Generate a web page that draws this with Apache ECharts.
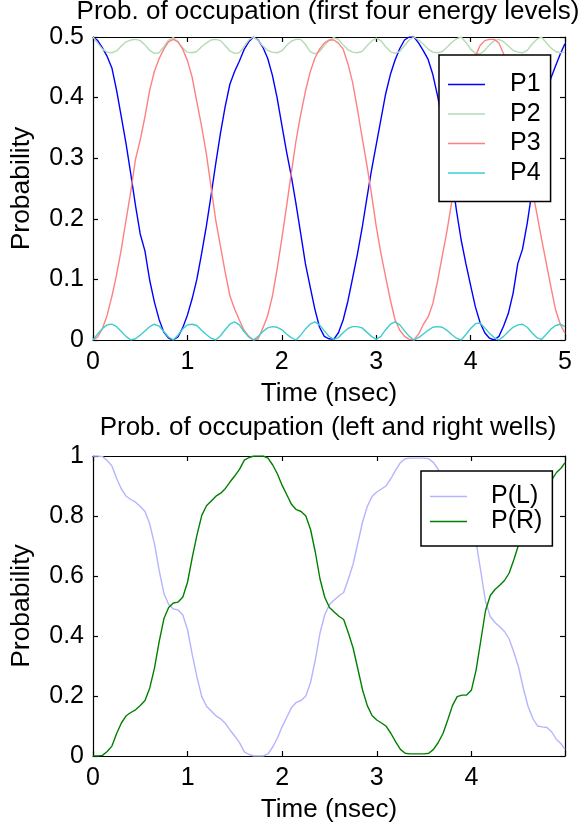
<!DOCTYPE html>
<html>
<head>
<meta charset="utf-8">
<script src="https://cdn.jsdelivr.net/npm/echarts@6/dist/echarts.min.js"></script>
<style>
html,body{margin:0;padding:0;background:#fff;}
#chart{width:583px;height:830px;}
</style>
</head>
<body>
<div id="chart"></div>
<script>
// ---- data ----
var titleTop = 'Prob. of occupation (first four energy levels)';
var titleBottom = 'Prob. of occupation (left and right wells)';
var xName = 'Time (nsec)';
var yName = 'Probability';
var levelNames = ['P1', 'P2', 'P3', 'P4'];
var wellNames = ['P(L)', 'P(R)'];

// sample times, top panel: 0 .. 5 ns every 0.05 ns
var tTop = [];
for (var i = 0; i <= 100; i++) tTop.push(+(i * 0.05).toFixed(2));
// sample times, bottom panel: 0 .. 4.95 ns every 0.05 ns, then 4.99
var tBottom = [];
for (var j = 0; j < 100; j++) tBottom.push(+(j * 0.05).toFixed(2));
tBottom.push(4.99);

var P1 = [
0.500,0.494,0.482,0.468,0.449,0.412,0.368,0.324,0.274,0.222,
0.175,0.147,0.099,0.063,0.034,0.013,0.003,0.000,0.005,0.020,
0.041,0.068,0.100,0.142,0.187,0.238,0.291,0.341,0.385,0.422,
0.443,0.460,0.479,0.492,0.500,0.495,0.483,0.465,0.437,0.400,
0.355,0.311,0.271,0.225,0.176,0.126,0.088,0.051,0.021,0.006,
0.002,0.001,0.012,0.033,0.064,0.102,0.141,0.184,0.233,0.280,
0.322,0.364,0.406,0.438,0.462,0.481,0.495,0.500,0.500,0.490,
0.477,0.463,0.438,0.403,0.362,0.318,0.270,0.214,0.165,0.126,
0.090,0.055,0.029,0.012,0.003,0.000,0.006,0.023,0.044,0.077,
0.126,0.150,0.193,0.245,0.300,0.350,0.395,0.432,0.452,0.472,
0.489];
var P2 = [
0.500,0.490,0.480,0.475,0.474,0.477,0.485,0.492,0.495,0.496,
0.494,0.487,0.478,0.473,0.474,0.484,0.495,0.499,0.492,0.482,
0.475,0.474,0.476,0.484,0.490,0.495,0.496,0.494,0.486,0.477,
0.473,0.474,0.484,0.495,0.500,0.494,0.485,0.478,0.475,0.474,
0.477,0.486,0.493,0.496,0.496,0.488,0.476,0.472,0.476,0.486,
0.494,0.499,0.496,0.487,0.479,0.475,0.474,0.476,0.485,0.493,
0.498,0.494,0.484,0.476,0.473,0.476,0.486,0.495,0.500,0.495,
0.488,0.480,0.475,0.474,0.476,0.483,0.491,0.497,0.500,0.491,
0.480,0.473,0.472,0.478,0.487,0.494,0.496,0.492,0.485,0.478,
0.475,0.474,0.478,0.488,0.496,0.500,0.491,0.482,0.476,0.474,
0.475];
var P3 = [
0.000,0.005,0.019,0.041,0.072,0.108,0.150,0.198,0.245,0.298,
0.330,0.368,0.412,0.443,0.464,0.480,0.492,0.496,0.492,0.480,
0.461,0.434,0.393,0.353,0.308,0.253,0.198,0.155,0.112,0.073,
0.051,0.033,0.016,0.006,0.000,0.002,0.020,0.040,0.072,0.117,
0.167,0.220,0.275,0.328,0.372,0.410,0.442,0.465,0.480,0.490,
0.495,0.495,0.490,0.480,0.456,0.425,0.382,0.335,0.290,0.241,
0.188,0.143,0.104,0.066,0.033,0.016,0.006,0.001,0.000,0.010,
0.026,0.038,0.060,0.097,0.139,0.180,0.228,0.280,0.335,0.385,
0.430,0.468,0.486,0.494,0.496,0.496,0.490,0.472,0.445,0.410,
0.368,0.330,0.295,0.250,0.210,0.168,0.128,0.088,0.050,0.026,
0.011];
var P4 = [
0.000,0.010,0.019,0.025,0.026,0.022,0.014,0.006,0.000,0.002,
0.008,0.015,0.022,0.026,0.023,0.014,0.005,0.000,0.008,0.018,
0.025,0.026,0.024,0.016,0.009,0.003,0.000,0.007,0.017,0.026,
0.030,0.025,0.014,0.005,0.000,0.006,0.014,0.020,0.022,0.021,
0.017,0.010,0.004,0.000,0.008,0.018,0.026,0.030,0.025,0.015,
0.006,0.001,0.004,0.012,0.019,0.022,0.022,0.020,0.013,0.006,
0.001,0.006,0.017,0.026,0.030,0.025,0.015,0.006,0.000,0.004,
0.010,0.016,0.021,0.022,0.021,0.016,0.009,0.003,0.000,0.009,
0.019,0.027,0.028,0.020,0.011,0.004,0.000,0.006,0.014,0.021,
0.025,0.026,0.021,0.012,0.004,0.001,0.009,0.018,0.024,0.026,
0.022];
var PL = [
1.000,1.000,0.998,0.985,0.967,0.925,0.890,0.866,0.855,0.846,
0.832,0.815,0.773,0.707,0.618,0.542,0.505,0.490,0.487,0.470,
0.420,0.337,0.262,0.198,0.166,0.150,0.134,0.124,0.108,0.086,
0.066,0.044,0.014,0.005,0.000,0.000,0.000,0.007,0.030,0.060,
0.098,0.130,0.162,0.179,0.185,0.200,0.245,0.320,0.410,0.471,
0.505,0.520,0.534,0.545,0.590,0.640,0.710,0.780,0.832,0.865,
0.880,0.890,0.901,0.925,0.953,0.978,0.991,0.993,0.993,0.993,
0.993,0.991,0.978,0.955,0.925,0.880,0.832,0.802,0.797,0.797,
0.781,0.714,0.615,0.515,0.465,0.445,0.431,0.415,0.390,0.345,
0.295,0.225,0.165,0.125,0.100,0.097,0.095,0.080,0.055,0.040,
0.022];
var PR = [
0.000,0.000,0.002,0.015,0.033,0.075,0.110,0.134,0.145,0.154,
0.168,0.185,0.227,0.293,0.382,0.458,0.495,0.510,0.513,0.530,
0.580,0.663,0.738,0.802,0.834,0.850,0.866,0.876,0.892,0.914,
0.934,0.956,0.986,0.995,1.000,1.000,1.000,0.993,0.970,0.940,
0.902,0.870,0.838,0.821,0.815,0.800,0.755,0.680,0.590,0.529,
0.495,0.480,0.466,0.455,0.410,0.360,0.290,0.220,0.168,0.135,
0.120,0.110,0.099,0.075,0.047,0.022,0.009,0.007,0.007,0.007,
0.007,0.009,0.022,0.045,0.075,0.120,0.168,0.198,0.203,0.203,
0.219,0.286,0.385,0.485,0.535,0.555,0.569,0.585,0.610,0.655,
0.705,0.775,0.835,0.875,0.900,0.903,0.905,0.920,0.945,0.960,
0.978];

var topTicks = {min: 0, max: 5, interval: 1};
var bottomTicks = {min: 0, max: 4.99, interval: 1};
var topY = {min: 0, max: 0.5, interval: 0.1};
var bottomY = {min: 0, max: 1, interval: 0.2};

// ---- styling ----
var FONT = 'Liberation Sans, Arial, Helvetica, sans-serif';
var levelColors = ['#0000ff', '#b4dab4', '#ff8080', '#40cccc'];
var wellColors = ['#b4b4ff', '#008000'];

function pairs(t, v) { return t.map(function (x, k) { return [x, v[k]]; }); }

function xAx(grid, pos, ext, withLabels) {
  return {
    type: 'value', gridIndex: grid, position: pos,
    min: ext.min, max: ext.max, interval: ext.interval,
    name: withLabels ? xName : '', nameLocation: 'middle', nameGap: 41,
    nameTextStyle: {fontFamily: FONT, fontSize: 26, color: '#000'},
    axisLine: {show: true, onZero: false, lineStyle: {color: '#000', width: 1.2}},
    axisTick: {show: true, inside: true, length: 5, lineStyle: {color: '#000', width: 1.2}},
    axisLabel: {show: withLabels, margin: 10, fontFamily: FONT, fontSize: 25, color: '#000',
      formatter: function (v) { return Math.abs(v - Math.round(v)) < 1e-6 ? String(Math.round(v)) : ''; }},
    splitLine: {show: false}
  };
}
function yAx(grid, pos, ext, withLabels) {
  return {
    type: 'value', gridIndex: grid, position: pos,
    min: ext.min, max: ext.max, interval: ext.interval,
    name: withLabels ? yName : '', nameLocation: 'middle', nameGap: 58,
    nameTextStyle: {fontFamily: FONT, fontSize: 26.5, color: '#000'},
    axisLine: {show: true, onZero: false, lineStyle: {color: '#000', width: 1.2}},
    axisTick: {show: true, inside: true, length: 5, lineStyle: {color: '#000', width: 1.2}},
    axisLabel: {show: withLabels, margin: 9, fontFamily: FONT, fontSize: 25, color: '#000'},
    splitLine: {show: false}
  };
}

var series = [];
var levelData = [P1, P2, P3, P4];
levelNames.forEach(function (n, k) {
  series.push({name: n, type: 'line', xAxisIndex: 0, yAxisIndex: 0,
    data: pairs(tTop, levelData[k]), showSymbol: false, symbol: 'none',
    lineStyle: {color: levelColors[k], width: 1.4}, itemStyle: {color: levelColors[k]}});
});
var wellData = [PL, PR];
wellNames.forEach(function (n, k) {
  series.push({name: n, type: 'line', xAxisIndex: 2, yAxisIndex: 2,
    data: pairs(tBottom, wellData[k]), showSymbol: false, symbol: 'none',
    lineStyle: {color: wellColors[k], width: 1.4}, itemStyle: {color: wellColors[k]}});
});

var option = {
  animation: false,
  backgroundColor: '#fff',
  title: [
    {text: titleTop, left: 328, top: -1.5, textAlign: 'center', padding: 0,
      textStyle: {fontFamily: FONT, fontSize: 26, fontWeight: 'normal', color: '#000'}},
    {text: titleBottom, left: 328, top: 414.5, textAlign: 'center', padding: 0,
      textStyle: {fontFamily: FONT, fontSize: 26, fontWeight: 'normal', color: '#000'}}
  ],
  grid: [
    {left: 91, top: 37, width: 474, height: 303, containLabel: false},
    {left: 91, top: 456, width: 474, height: 300, containLabel: false}
  ],
  xAxis: [xAx(0, 'bottom', topTicks, true), xAx(0, 'top', topTicks, false),
          xAx(1, 'bottom', bottomTicks, true), xAx(1, 'top', bottomTicks, false)],
  yAxis: [yAx(0, 'left', topY, true), yAx(0, 'right', topY, false),
          yAx(1, 'left', bottomY, true), yAx(1, 'right', bottomY, false)],
  legend: [
    {data: levelNames, orient: 'vertical', left: 439, top: 55,
      backgroundColor: '#fff', borderColor: '#000', borderWidth: 1.5, borderRadius: 0,
      padding: [17, 10, 16, 9], itemGap: 4.5, itemWidth: 37, itemHeight: 1.5, icon: 'rect',
      selectedMode: false,
      textStyle: {fontFamily: FONT, fontSize: 25, color: '#000', padding: [0, 0, 0, 20]}},
    {data: wellNames, orient: 'vertical', left: 421, top: 471,
      backgroundColor: '#fff', borderColor: '#000', borderWidth: 1.5, borderRadius: 0,
      padding: [13, 10, 12, 9], itemGap: 0, itemWidth: 37, itemHeight: 1.5, icon: 'rect',
      selectedMode: false,
      textStyle: {fontFamily: FONT, fontSize: 25, color: '#000', padding: [0, 0, 0, 19]}}
  ],
  series: series
};

var chart = echarts.init(document.getElementById('chart'));
chart.setOption(option);
</script>
</body>
</html>
